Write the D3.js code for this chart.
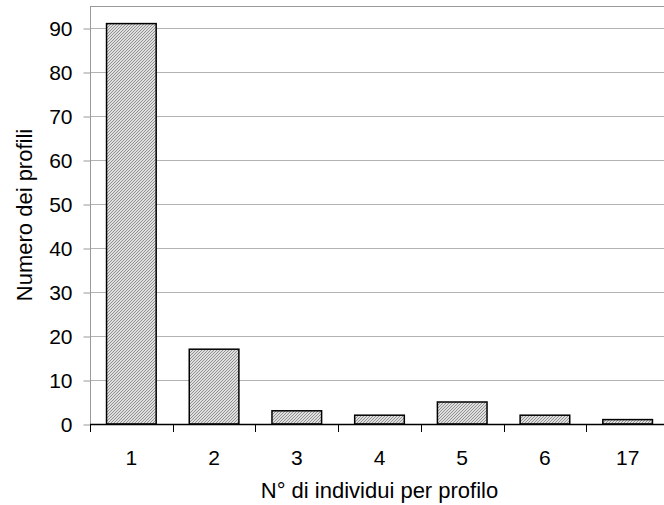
<!DOCTYPE html>
<html>
<head>
<meta charset="utf-8">
<script src="https://cdn.jsdelivr.net/npm/d3@7"></script>
<style>
  html, body { margin: 0; padding: 0; background: #fff; }
  svg { display: block; }
  text { font-family: "Liberation Sans", Arial, sans-serif; fill: #000; }
</style>
</head>
<body>
<svg id="chart" width="664" height="505"></svg>
<script>
const categories = ["1", "2", "3", "4", "5", "6", "17"];
const values = [91, 17, 3, 2, 5, 2, 1];
const yTicks = [0, 10, 20, 30, 40, 50, 60, 70, 80, 90];
const xTitle = "N° di individui per profilo";
const yTitle = "Numero dei profili";

const svg = d3.select("#chart");
const W = 664, H = 505;
const m = { left: 90, top: 6, bottom: 424, right: 669 };

const defs = svg.append("defs");
const pat = defs.append("pattern")
  .attr("id", "hatch")
  .attr("patternUnits", "userSpaceOnUse")
  .attr("width", 3).attr("height", 3);
pat.append("rect").attr("width", 3).attr("height", 3).attr("fill", "#fff");
pat.append("path")
  .attr("d", "M-1,1 l2,-2 M0,3 l3,-3 M2,4 l2,-2")
  .attr("stroke", "#8a8a8a").attr("stroke-width", 1.05);

const x = d3.scaleBand().domain(categories).range([m.left, m.right]).paddingInner(0.4).paddingOuter(0.2);
const y = d3.scaleLinear().domain([0, 95]).range([m.bottom, m.top]);

// gridlines
svg.append("g").selectAll("line").data(yTicks.filter(d => d > 0)).join("line")
  .attr("x1", m.left).attr("x2", W)
  .attr("y1", d => Math.round(y(d)) + 0.5).attr("y2", d => Math.round(y(d)) + 0.5)
  .attr("stroke", "#b3b3b3").attr("stroke-width", 1);

// top border
svg.append("line").attr("x1", m.left).attr("x2", W)
  .attr("y1", m.top + 0.5).attr("y2", m.top + 0.5)
  .attr("stroke", "#999").attr("stroke-width", 1.2);

// y axis
const yAxis = d3.axisLeft(y).tickValues(yTicks).tickSize(7).tickPadding(11).tickFormat(d3.format("d"));
const gy = svg.append("g").attr("transform", `translate(${m.left + 0.5},0.5)`).call(yAxis);
gy.select(".domain").attr("stroke", "#999").attr("d", `M0,${m.top}V${m.bottom}`);
gy.selectAll(".tick line").attr("stroke", "#999");
gy.selectAll(".tick text").attr("font-size", 21).attr("font-family", "Liberation Sans, Arial, sans-serif").attr("fill", "#000");

// bars
svg.append("g").selectAll("rect").data(values).join("rect")
  .attr("x", (d, i) => x(categories[i]))
  .attr("y", d => y(d))
  .attr("width", x.bandwidth())
  .attr("height", d => y(0) - y(d))
  .attr("fill", "url(#hatch)")
  .attr("stroke", "#000").attr("stroke-width", 1.5);

// x axis
const step = x.step();
const boundaries = d3.range(categories.length + 1).map(i => m.left + i * step);
const gx = svg.append("g");
gx.append("line").attr("x1", m.left).attr("x2", W)
  .attr("y1", m.bottom + 0.5).attr("y2", m.bottom + 0.5)
  .attr("stroke", "#000").attr("stroke-width", 1.3);
gx.selectAll("line.tk").data(boundaries).join("line").attr("class", "tk")
  .attr("x1", d => Math.round(d) + 0.5).attr("x2", d => Math.round(d) + 0.5)
  .attr("y1", m.bottom).attr("y2", m.bottom + 8)
  .attr("stroke", "#000").attr("stroke-width", 1);
gx.selectAll("text").data(categories).join("text")
  .attr("x", d => x(d) + x.bandwidth() / 2)
  .attr("y", 465)
  .attr("text-anchor", "middle")
  .attr("font-size", 21)
  .text(d => d);

// titles
svg.append("text")
  .attr("x", (m.left + m.right) / 2).attr("y", 498)
  .attr("text-anchor", "middle").attr("font-size", 22)
  .text(xTitle);
svg.append("text")
  .attr("transform", `translate(32,${(m.top + m.bottom) / 2}) rotate(-90)`)
  .attr("text-anchor", "middle").attr("font-size", 22)
  .text(yTitle);
</script>
</body>
</html>
